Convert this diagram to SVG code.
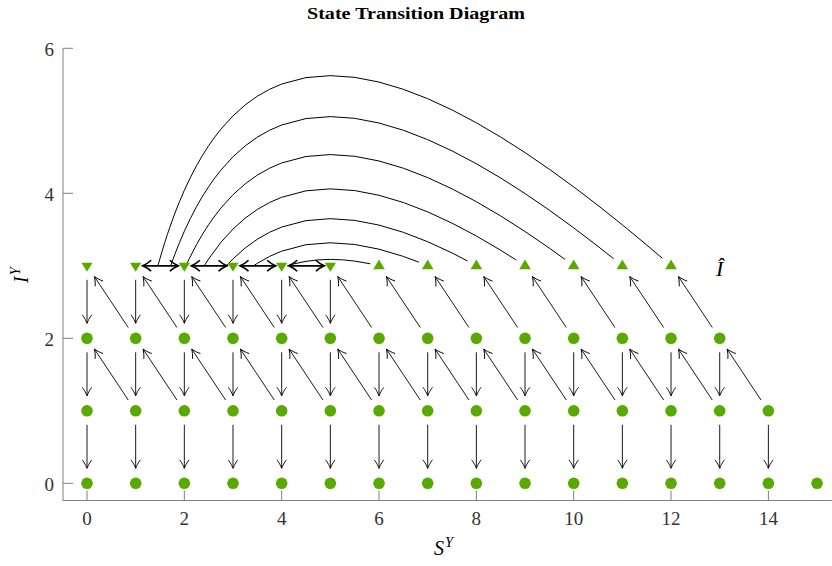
<svg xmlns="http://www.w3.org/2000/svg" width="832" height="566" viewBox="0 0 832 566">
<style>
.ax{stroke:#808080;stroke-width:1;fill:none}
.tl{font-family:"Liberation Serif","DejaVu Serif",serif;font-size:19px;fill:#333}
.nd{fill:#58a900}
.ar{stroke:#000;stroke-width:0.9;fill:none;marker-end:url(#hd)}
.dbl{stroke:#000;stroke-width:1.8;fill:none;marker-end:url(#hb);marker-start:url(#hb)}
.arc{stroke:#000;stroke-width:1;fill:none;vector-effect:non-scaling-stroke;stroke-linejoin:round}
</style>
<defs>
<marker id="hd" markerUnits="userSpaceOnUse" orient="auto" refX="0" refY="0" markerWidth="20" markerHeight="20" viewBox="-10 -10 20 20" overflow="visible">
<path d="M-8.5,-4.8 C-6,-2.6 -1.8,-0.7 0,0 C-1.8,0.7 -6,2.6 -8.5,4.8" fill="none" stroke="#000" stroke-width="0.9"/>
</marker>
<marker id="hb" markerUnits="userSpaceOnUse" orient="auto-start-reverse" refX="0" refY="0" markerWidth="20" markerHeight="20" viewBox="-10 -10 20 20" overflow="visible">
<path d="M-8.5,-5.5 C-6,-3 -1.8,-0.8 0,0 C-1.8,0.8 -6,3 -8.5,5.5" fill="none" stroke="#000" stroke-width="1.6"/>
</marker>
<circle id="c" r="5.8"/>
<path id="td" d="M-5.6,-3 L5.6,-3 L0,6 Z"/>
<path id="tu" d="M-5.8,3.5 L5.8,3.5 L0,-6.3 Z"/>
</defs>
<rect width="832" height="566" fill="#fff"/>
<text x="307" y="19" textLength="218" lengthAdjust="spacingAndGlyphs" font-family="Liberation Serif, DejaVu Serif, serif" font-weight="bold" font-size="17">State Transition Diagram</text>
<g id="axes">
<path class="ax" d="M63,48.3 V500.5 H832"/>
<path class="ax" d="M87,500.5v-10 M184.34,500.5v-10 M281.68,500.5v-10 M379.02,500.5v-10 M476.36,500.5v-10 M573.7,500.5v-10 M671.04,500.5v-10 M768.38,500.5v-10 M63,483.3h10 M63,338.3h10 M63,193.3h10 M63,48.3h10"/>
<g class="tl" text-anchor="middle">
<text x="87" y="525">0</text><text x="184.34" y="525">2</text><text x="281.68" y="525">4</text><text x="379.02" y="525">6</text><text x="476.36" y="525">8</text><text x="573.7" y="525">10</text><text x="671.04" y="525">12</text><text x="768.38" y="525">14</text>
</g>
<g class="tl" text-anchor="end">
<text x="54" y="490.5">0</text><text x="54" y="345.5">2</text><text x="54" y="200.5">4</text><text x="54" y="55.5">6</text>
</g>
<text x="434" y="555" font-family="Liberation Serif, DejaVu Serif, serif" font-size="20" font-style="italic">S<tspan font-size="14.5" dy="-8.5" dx="1">Y</tspan></text>
<text transform="translate(28,283) rotate(-90)" font-family="Liberation Serif, DejaVu Serif, serif" font-size="20" font-style="italic">I<tspan font-size="14.5" dy="-8.5" dx="1">Y</tspan></text>
<text x="716" y="276" font-family="Liberation Serif, DejaVu Serif, serif" font-size="22" font-style="italic">Î</text>
</g>
<g id="connectors">
<g transform="matrix(48.67 0 0 -72.5 87 483.3)">
<path class="arc" d="M1.457,3 L1.5,3.1028 L1.55,3.2167 L1.6,3.3255 L1.65,3.4293 L1.7,3.5286 L1.8,3.7144 L1.9,3.8847 L2,4.0412 L2.125,4.2193 L2.25,4.3801 L2.375,4.5254 L2.5,4.6569 L2.625,4.7759 L2.75,4.8835 L3,5.0685 L3.25,5.2187 L3.5,5.3393 L3.75,5.4343 L4,5.5069 L4.5,5.5959 L5,5.6227 L5.5,5.5992 L6,5.5343 L6.5,5.4345 L7,5.305 L7.5,5.15 L8,4.9727 L8.5,4.7758 L9,4.5616 L9.5,4.3319 L10,4.0884 L10.5,3.8323 L11,3.5649 L11.5,3.2872 L11.82,3.1044"/>
<path class="arc" d="M1.719,3 L1.8,3.1495 L1.9,3.3198 L2,3.4763 L2.125,3.6544 L2.25,3.8152 L2.375,3.9605 L2.5,4.092 L2.625,4.2109 L2.75,4.3185 L3,4.5036 L3.25,4.6538 L3.5,4.7743 L3.75,4.8693 L4,4.942 L4.5,5.0309 L5,5.0577 L5.5,5.0343 L6,4.9693 L6.5,4.8695 L7,4.7401 L7.5,4.585 L8,4.4077 L8.5,4.2108 L9,3.9966 L9.5,3.767 L10,3.5234 L10.5,3.2674 L10.82,3.0975"/>
<path class="arc" d="M2.032,3 L2.1,3.0968 L2.25,3.2917 L2.375,3.4371 L2.5,3.5685 L2.625,3.6875 L2.75,3.7951 L3,3.9801 L3.25,4.1304 L3.5,4.2509 L3.75,4.3459 L4,4.4185 L4.5,4.5075 L5,4.5343 L5.5,4.5108 L6,4.4459 L6.5,4.3461 L7,4.2166 L7.5,4.0616 L8,3.8843 L8.5,3.6874 L9,3.4732 L9.5,3.2435 L9.82,3.0892"/>
<path class="arc" d="M2.408,3 L2.5,3.0953 L2.75,3.3219 L3,3.5069 L3.25,3.6572 L3.5,3.7777 L3.75,3.8727 L4,3.9454 L4.5,4.0343 L5,4.0611 L5.5,4.0376 L6,3.9727 L6.5,3.8729 L7,3.7434 L7.5,3.5884 L8,3.4111 L8.5,3.2142 L8.82,3.079"/>
<path class="arc" d="M2.864,3 L3,3.0959 L3.25,3.2461 L3.5,3.3666 L3.75,3.4616 L4,3.5343 L4.5,3.6232 L5,3.65 L5.5,3.6265 L6,3.5616 L6.5,3.4618 L7,3.3323 L7.5,3.1773 L7.82,3.0662"/>
<path class="arc" d="M3.423,3 L3.5,3.0343 L3.75,3.1292 L4,3.2019 L4.5,3.2908 L5,3.3176 L5.5,3.2942 L6,3.2292 L6.5,3.1294 L6.82,3.0497"/>
<path class="arc" d="M4.118,3 L4.25,3.0258 L4.5,3.0616 L4.75,3.0819 L5,3.0884 L5.25,3.0823 L5.5,3.065 L5.82,3.0277"/>
</g>
<line class="dbl" x1="142.67" y1="265.8" x2="178.34" y2="265.8"/>
<line class="dbl" x1="191.34" y1="265.8" x2="227.01" y2="265.8"/>
<line class="dbl" x1="240.01" y1="265.8" x2="275.68" y2="265.8"/>
<line class="dbl" x1="288.68" y1="265.8" x2="324.35" y2="265.8"/>
<line class="ar" x1="87" y1="279.8" x2="87" y2="323.3"/>
<line class="ar" x1="135.67" y1="279.8" x2="135.67" y2="323.3"/>
<line class="ar" x1="184.34" y1="279.8" x2="184.34" y2="323.3"/>
<line class="ar" x1="233.01" y1="279.8" x2="233.01" y2="323.3"/>
<line class="ar" x1="281.68" y1="279.8" x2="281.68" y2="323.3"/>
<line class="ar" x1="330.35" y1="279.8" x2="330.35" y2="323.3"/>
<line class="ar" x1="87" y1="352.3" x2="87" y2="395.8"/>
<line class="ar" x1="135.67" y1="352.3" x2="135.67" y2="395.8"/>
<line class="ar" x1="184.34" y1="352.3" x2="184.34" y2="395.8"/>
<line class="ar" x1="233.01" y1="352.3" x2="233.01" y2="395.8"/>
<line class="ar" x1="281.68" y1="352.3" x2="281.68" y2="395.8"/>
<line class="ar" x1="330.35" y1="352.3" x2="330.35" y2="395.8"/>
<line class="ar" x1="379.02" y1="352.3" x2="379.02" y2="395.8"/>
<line class="ar" x1="427.69" y1="352.3" x2="427.69" y2="395.8"/>
<line class="ar" x1="476.36" y1="352.3" x2="476.36" y2="395.8"/>
<line class="ar" x1="525.03" y1="352.3" x2="525.03" y2="395.8"/>
<line class="ar" x1="573.7" y1="352.3" x2="573.7" y2="395.8"/>
<line class="ar" x1="622.37" y1="352.3" x2="622.37" y2="395.8"/>
<line class="ar" x1="671.04" y1="352.3" x2="671.04" y2="395.8"/>
<line class="ar" x1="719.71" y1="352.3" x2="719.71" y2="395.8"/>
<line class="ar" x1="87" y1="424.8" x2="87" y2="468.3"/>
<line class="ar" x1="135.67" y1="424.8" x2="135.67" y2="468.3"/>
<line class="ar" x1="184.34" y1="424.8" x2="184.34" y2="468.3"/>
<line class="ar" x1="233.01" y1="424.8" x2="233.01" y2="468.3"/>
<line class="ar" x1="281.68" y1="424.8" x2="281.68" y2="468.3"/>
<line class="ar" x1="330.35" y1="424.8" x2="330.35" y2="468.3"/>
<line class="ar" x1="379.02" y1="424.8" x2="379.02" y2="468.3"/>
<line class="ar" x1="427.69" y1="424.8" x2="427.69" y2="468.3"/>
<line class="ar" x1="476.36" y1="424.8" x2="476.36" y2="468.3"/>
<line class="ar" x1="525.03" y1="424.8" x2="525.03" y2="468.3"/>
<line class="ar" x1="573.7" y1="424.8" x2="573.7" y2="468.3"/>
<line class="ar" x1="622.37" y1="424.8" x2="622.37" y2="468.3"/>
<line class="ar" x1="671.04" y1="424.8" x2="671.04" y2="468.3"/>
<line class="ar" x1="719.71" y1="424.8" x2="719.71" y2="468.3"/>
<line class="ar" x1="768.38" y1="424.8" x2="768.38" y2="468.3"/>
<line class="ar" x1="128.27" y1="327.5" x2="94.4" y2="276.6"/>
<line class="ar" x1="176.94" y1="327.5" x2="143.07" y2="276.6"/>
<line class="ar" x1="225.61" y1="327.5" x2="191.74" y2="276.6"/>
<line class="ar" x1="274.28" y1="327.5" x2="240.41" y2="276.6"/>
<line class="ar" x1="322.95" y1="327.5" x2="289.08" y2="276.6"/>
<line class="ar" x1="371.62" y1="327.5" x2="337.75" y2="276.6"/>
<line class="ar" x1="420.29" y1="327.5" x2="386.42" y2="276.6"/>
<line class="ar" x1="468.96" y1="327.5" x2="435.09" y2="276.6"/>
<line class="ar" x1="517.63" y1="327.5" x2="483.76" y2="276.6"/>
<line class="ar" x1="566.3" y1="327.5" x2="532.43" y2="276.6"/>
<line class="ar" x1="614.97" y1="327.5" x2="581.1" y2="276.6"/>
<line class="ar" x1="663.64" y1="327.5" x2="629.77" y2="276.6"/>
<line class="ar" x1="712.31" y1="327.5" x2="678.44" y2="276.6"/>
<line class="ar" x1="128.27" y1="400" x2="94.4" y2="349.1"/>
<line class="ar" x1="176.94" y1="400" x2="143.07" y2="349.1"/>
<line class="ar" x1="225.61" y1="400" x2="191.74" y2="349.1"/>
<line class="ar" x1="274.28" y1="400" x2="240.41" y2="349.1"/>
<line class="ar" x1="322.95" y1="400" x2="289.08" y2="349.1"/>
<line class="ar" x1="371.62" y1="400" x2="337.75" y2="349.1"/>
<line class="ar" x1="420.29" y1="400" x2="386.42" y2="349.1"/>
<line class="ar" x1="468.96" y1="400" x2="435.09" y2="349.1"/>
<line class="ar" x1="517.63" y1="400" x2="483.76" y2="349.1"/>
<line class="ar" x1="566.3" y1="400" x2="532.43" y2="349.1"/>
<line class="ar" x1="614.97" y1="400" x2="581.1" y2="349.1"/>
<line class="ar" x1="663.64" y1="400" x2="629.77" y2="349.1"/>
<line class="ar" x1="712.31" y1="400" x2="678.44" y2="349.1"/>
<line class="ar" x1="760.98" y1="400" x2="727.11" y2="349.1"/>
</g>
<g id="nodes" class="nd">
<g id="s0i3"><use href="#td" x="87" y="265.8"/></g>
<g id="s1i3"><use href="#td" x="135.67" y="265.8"/></g>
<g id="s2i3"><use href="#td" x="184.34" y="265.8"/></g>
<g id="s3i3"><use href="#td" x="233.01" y="265.8"/></g>
<g id="s4i3"><use href="#td" x="281.68" y="265.8"/></g>
<g id="s5i3"><use href="#td" x="330.35" y="265.8"/></g>
<g id="s6i3"><use href="#tu" x="379.02" y="265.8"/></g>
<g id="s7i3"><use href="#tu" x="427.69" y="265.8"/></g>
<g id="s8i3"><use href="#tu" x="476.36" y="265.8"/></g>
<g id="s9i3"><use href="#tu" x="525.03" y="265.8"/></g>
<g id="s10i3"><use href="#tu" x="573.7" y="265.8"/></g>
<g id="s11i3"><use href="#tu" x="622.37" y="265.8"/></g>
<g id="s12i3"><use href="#tu" x="671.04" y="265.8"/></g>
<g id="s0i2"><use href="#c" x="87" y="338.3"/></g>
<g id="s1i2"><use href="#c" x="135.67" y="338.3"/></g>
<g id="s2i2"><use href="#c" x="184.34" y="338.3"/></g>
<g id="s3i2"><use href="#c" x="233.01" y="338.3"/></g>
<g id="s4i2"><use href="#c" x="281.68" y="338.3"/></g>
<g id="s5i2"><use href="#c" x="330.35" y="338.3"/></g>
<g id="s6i2"><use href="#c" x="379.02" y="338.3"/></g>
<g id="s7i2"><use href="#c" x="427.69" y="338.3"/></g>
<g id="s8i2"><use href="#c" x="476.36" y="338.3"/></g>
<g id="s9i2"><use href="#c" x="525.03" y="338.3"/></g>
<g id="s10i2"><use href="#c" x="573.7" y="338.3"/></g>
<g id="s11i2"><use href="#c" x="622.37" y="338.3"/></g>
<g id="s12i2"><use href="#c" x="671.04" y="338.3"/></g>
<g id="s13i2"><use href="#c" x="719.71" y="338.3"/></g>
<g id="s0i1"><use href="#c" x="87" y="410.8"/></g>
<g id="s1i1"><use href="#c" x="135.67" y="410.8"/></g>
<g id="s2i1"><use href="#c" x="184.34" y="410.8"/></g>
<g id="s3i1"><use href="#c" x="233.01" y="410.8"/></g>
<g id="s4i1"><use href="#c" x="281.68" y="410.8"/></g>
<g id="s5i1"><use href="#c" x="330.35" y="410.8"/></g>
<g id="s6i1"><use href="#c" x="379.02" y="410.8"/></g>
<g id="s7i1"><use href="#c" x="427.69" y="410.8"/></g>
<g id="s8i1"><use href="#c" x="476.36" y="410.8"/></g>
<g id="s9i1"><use href="#c" x="525.03" y="410.8"/></g>
<g id="s10i1"><use href="#c" x="573.7" y="410.8"/></g>
<g id="s11i1"><use href="#c" x="622.37" y="410.8"/></g>
<g id="s12i1"><use href="#c" x="671.04" y="410.8"/></g>
<g id="s13i1"><use href="#c" x="719.71" y="410.8"/></g>
<g id="s14i1"><use href="#c" x="768.38" y="410.8"/></g>
<g id="s0i0"><use href="#c" x="87" y="483.3"/></g>
<g id="s1i0"><use href="#c" x="135.67" y="483.3"/></g>
<g id="s2i0"><use href="#c" x="184.34" y="483.3"/></g>
<g id="s3i0"><use href="#c" x="233.01" y="483.3"/></g>
<g id="s4i0"><use href="#c" x="281.68" y="483.3"/></g>
<g id="s5i0"><use href="#c" x="330.35" y="483.3"/></g>
<g id="s6i0"><use href="#c" x="379.02" y="483.3"/></g>
<g id="s7i0"><use href="#c" x="427.69" y="483.3"/></g>
<g id="s8i0"><use href="#c" x="476.36" y="483.3"/></g>
<g id="s9i0"><use href="#c" x="525.03" y="483.3"/></g>
<g id="s10i0"><use href="#c" x="573.7" y="483.3"/></g>
<g id="s11i0"><use href="#c" x="622.37" y="483.3"/></g>
<g id="s12i0"><use href="#c" x="671.04" y="483.3"/></g>
<g id="s13i0"><use href="#c" x="719.71" y="483.3"/></g>
<g id="s14i0"><use href="#c" x="768.38" y="483.3"/></g>
<g id="s15i0"><use href="#c" x="817.05" y="483.3"/></g>
</g>
</svg>
